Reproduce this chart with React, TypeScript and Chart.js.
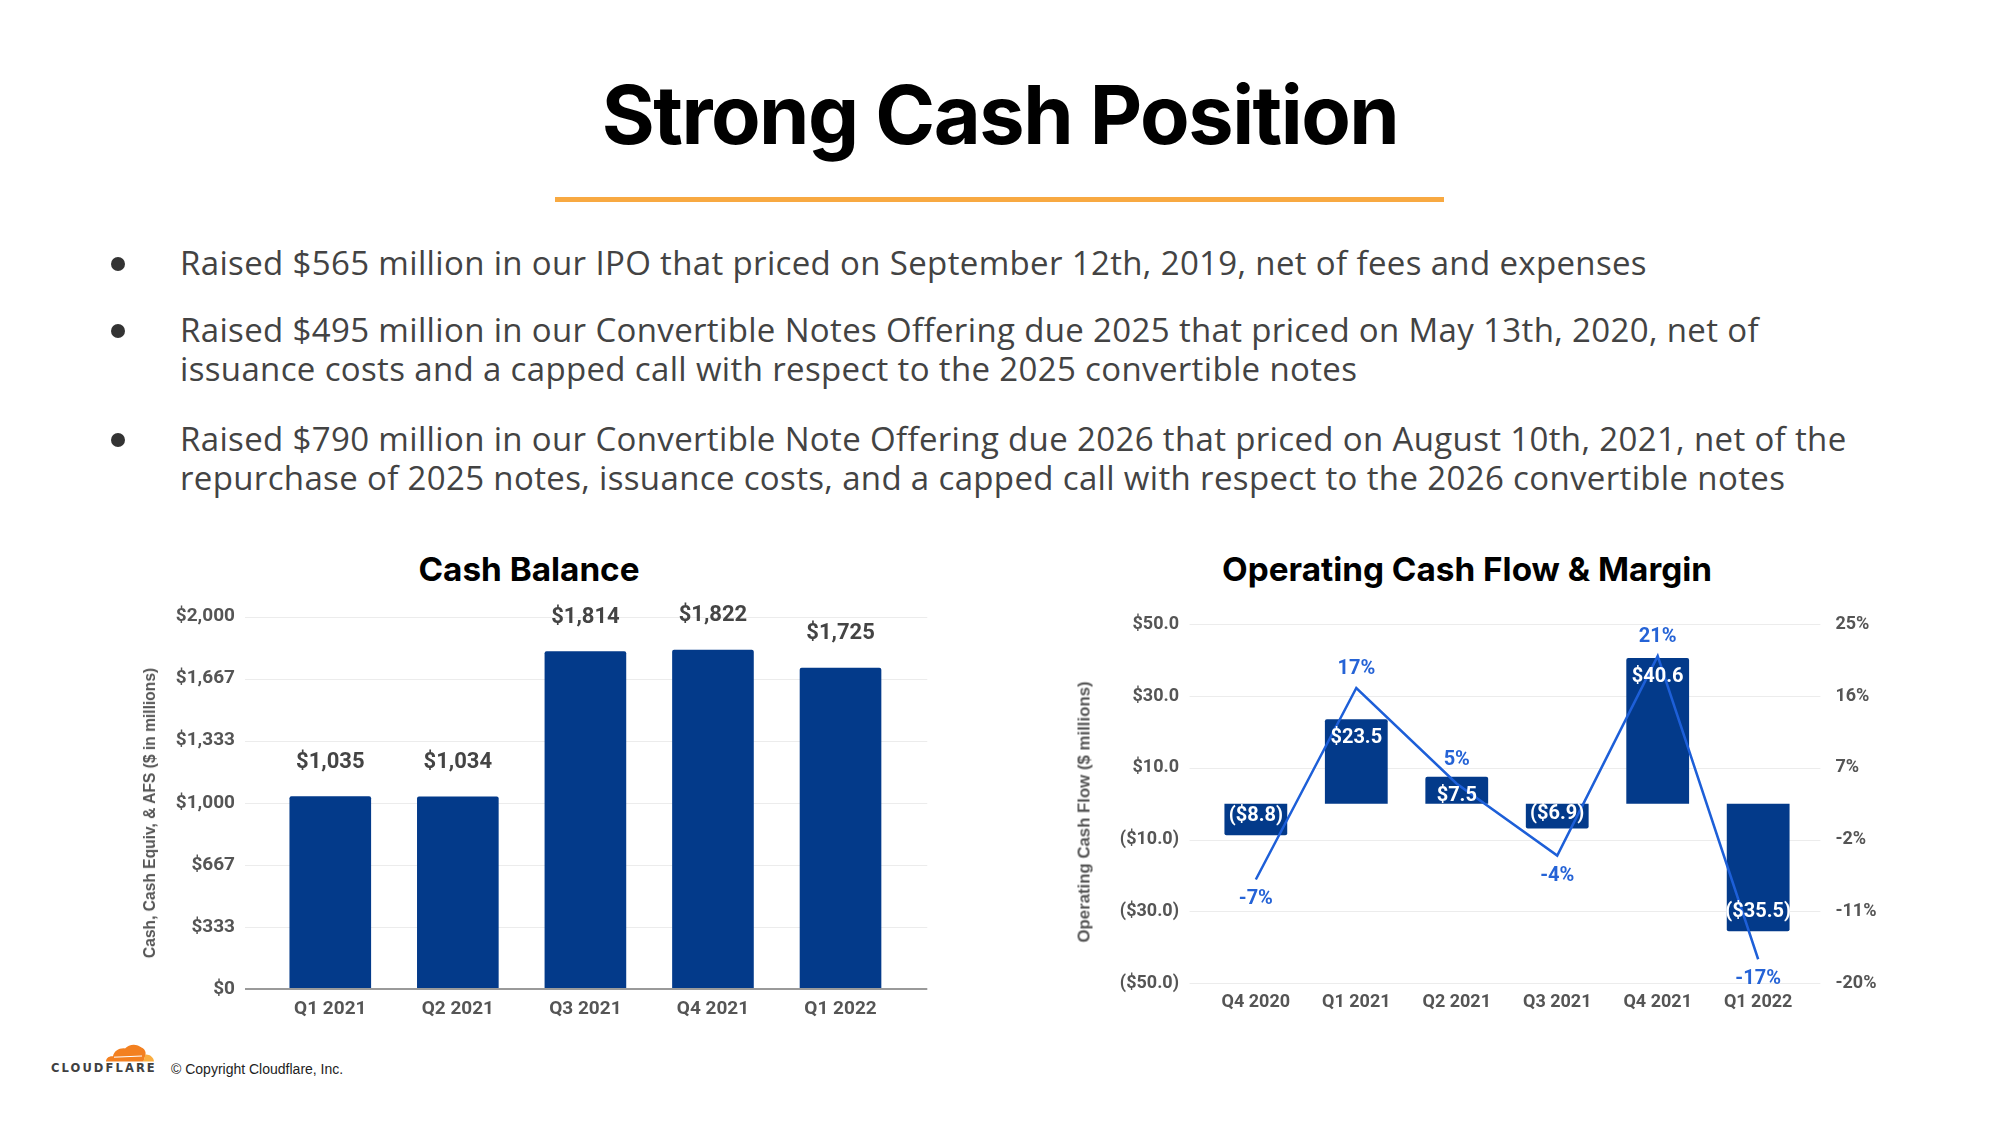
import React, { useEffect, useRef } from 'react';
import { Chart, registerables } from 'chart.js';

Chart.register(...registerables);

// ---------- DATA ----------
const cashCategories = ['Q1 2021', 'Q2 2021', 'Q3 2021', 'Q4 2021', 'Q1 2022'];
const cashValues = [1035, 1034, 1814, 1822, 1725];
const cashValueLabels = ['$1,035', '$1,034', '$1,814', '$1,822', '$1,725'];
const cashTickLabels = ['$0', '$333', '$667', '$1,000', '$1,333', '$1,667', '$2,000'];

const ocfCategories = ['Q4 2020', 'Q1 2021', 'Q2 2021', 'Q3 2021', 'Q4 2021', 'Q1 2022'];
const ocfValues = [-8.8, 23.5, 7.5, -6.9, 40.6, -35.5];
const ocfValueLabels = ['($8.8)', '$23.5', '$7.5', '($6.9)', '$40.6', '($35.5)'];
const marginValues = [-7, 17, 5, -4, 21, -17];
const marginLabels = ['-7%', '17%', '5%', '-4%', '21%', '-17%'];
const ocfTickLabels = ['($50.0)', '($30.0)', '($10.0)', '$10.0', '$30.0', '$50.0'];
const marginTickLabels = ['-20%', '-11%', '-2%', '7%', '16%', '25%'];

const bullets = [
  'Raised $565 million in our IPO that priced on September 12th, 2019, net of fees and expenses',
  'Raised $495 million in our Convertible Notes Offering due 2025 that priced on May 13th, 2020, net of issuance costs and a capped call with respect to the 2025 convertible notes',
  'Raised $790 million in our Convertible Note Offering due 2026 that priced on August 10th, 2021, net of the repurchase of 2025 notes, issuance costs, and a capped call with respect to the 2026 convertible notes',
];

// ---------- STYLE ----------
const NAVY = '#033a8a';
const BLUE = '#1d5fd8';
const LABEL_BLUE = '#2563d6';
const TICK_GRAY = '#555555';
const GRID = '#ececec';

function gridPlugin(axisId: string, extL: number, extR: number, zeroLine: boolean) {
  return {
    id: 'customGrid_' + axisId,
    beforeDatasetsDraw(chart: any) {
      const { ctx, chartArea } = chart;
      const s = chart.scales[axisId];
      ctx.save();
      ctx.strokeStyle = GRID;
      ctx.lineWidth = 1;
      s.ticks.forEach((t: any) => {
        if (zeroLine && t.value === 0) return;
        const y = Math.round(s.getPixelForValue(t.value)) + 0.5;
        ctx.beginPath();
        ctx.moveTo(chartArea.left - extL, y);
        ctx.lineTo(chartArea.right + extR, y);
        ctx.stroke();
      });
      ctx.restore();
    },
    afterDatasetsDraw(chart: any) {
      if (!zeroLine) return;
      const { ctx, chartArea } = chart;
      const s = chart.scales[axisId];
      const y = s.getPixelForValue(0);
      ctx.save();
      ctx.strokeStyle = '#9a9a9a';
      ctx.lineWidth = 2;
      ctx.beginPath();
      ctx.moveTo(chartArea.left - extL, y);
      ctx.lineTo(chartArea.right + extR, y);
      ctx.stroke();
      ctx.restore();
    },
  };
}

const cashLabelPlugin = {
  id: 'cashLabels',
  afterDraw(chart: any) {
    const { ctx } = chart;
    const meta = chart.getDatasetMeta(0);
    ctx.save();
    ctx.font = 'bold 22px Roboto';
    ctx.fillStyle = '#444444';
    ctx.textAlign = 'center';
    ctx.textBaseline = 'middle';
    meta.data.forEach((bar: any, i: number) => {
      ctx.fillText(cashValueLabels[i], bar.x, bar.y - 34);
    });
    ctx.restore();
  },
};

const ocfLabelPlugin = {
  id: 'ocfLabels',
  afterDraw(chart: any) {
    const { ctx } = chart;
    const lineMeta = chart.getDatasetMeta(0);
    const barMeta = chart.getDatasetMeta(1);
    ctx.save();
    ctx.font = 'bold 20px Roboto';
    ctx.textAlign = 'center';
    ctx.textBaseline = 'middle';
    ctx.fillStyle = '#ffffff';
    barMeta.data.forEach((bar: any, i: number) => {
      const v = ocfValues[i];
      const y = v >= 0 ? bar.y + 19 : Math.max(bar.y - 19, bar.base + 10);
      ctx.fillText(ocfValueLabels[i], bar.x, y);
    });
    ctx.fillStyle = LABEL_BLUE;
    const pts = lineMeta.data;
    const halfH = 10;
    pts.forEach((pt: any, i: number) => {
      const v = marginValues[i];
      const halfW = ctx.measureText(marginLabels[i]).width / 2;
      const above = v >= 0;
      let y = above ? pt.y - 19 : pt.y + 20;
      // keep the label clear of the neighbouring line segments
      [i - 1, i + 1].forEach((j) => {
        if (j < 0 || j >= pts.length) return;
        const q = pts[j];
        const slope = (q.y - pt.y) / Math.abs(q.x - pt.x);
        const lineY = pt.y + slope * halfW;
        if (above) y = Math.min(y, lineY - halfH - 1);
        else y = Math.max(y, lineY + halfH + 1);
      });
      ctx.fillText(marginLabels[i], pt.x, y);
    });
    ctx.restore();
  },
};

function CashChart() {
  const ref = useRef<HTMLCanvasElement>(null);
  useEffect(() => {
    const chart = new Chart(ref.current as HTMLCanvasElement, {
      type: 'bar',
      data: {
        labels: cashCategories,
        datasets: [
          {
            data: cashValues,
            backgroundColor: NAVY,
            barPercentage: 0.64,
            categoryPercentage: 1,
            borderRadius: 2,
          },
        ],
      },
      options: {
        animation: false,
        responsive: false,
        maintainAspectRatio: false,
        layout: { padding: { left: 0, top: 56.5, right: 75.7, bottom: 0 } },
        plugins: { legend: { display: false }, tooltip: { enabled: false } },
        scales: {
          x: {
            grid: { display: false, drawTicks: false },
            border: { display: false },
            ticks: { padding: 8.6, color: TICK_GRAY, font: { family: 'Roboto', weight: 'bold', size: 19 } },
            afterFit: (s: any) => { s.height = 51; },
          },
          y: {
            min: 0,
            max: 2000,
            grid: { display: false, drawTicks: false },
            border: { display: false },
            ticks: {
              count: 7,
              padding: 31.5,
              color: TICK_GRAY,
              font: { family: 'Roboto', weight: 'bold', size: 19 },
              callback: (_v: any, i: number) => cashTickLabels[i],
            },
            afterFit: (s: any) => { s.width = 166.5; },
          },
        },
      } as any,
      plugins: [gridPlugin('y', 21.5, 23, true), cashLabelPlugin],
    });
    return () => chart.destroy();
  }, []);
  return (
    <canvas
      ref={ref}
      width={880}
      height={480}
      style={{ position: 'absolute', left: 100, top: 560, width: 880, height: 480 }}
    />
  );
}

function OcfChart() {
  const ref = useRef<HTMLCanvasElement>(null);
  useEffect(() => {
    const chart = new Chart(ref.current as HTMLCanvasElement, {
      type: 'bar',
      data: {
        labels: ocfCategories,
        datasets: [
          {
            type: 'line',
            data: marginValues,
            yAxisID: 'y1',
            borderColor: BLUE,
            borderWidth: 2.5,
            pointRadius: 0,
            tension: 0,
            fill: false,
          },
          {
            type: 'bar',
            data: ocfValues,
            yAxisID: 'y',
            backgroundColor: NAVY,
            barPercentage: 0.625,
            categoryPercentage: 1,
            borderRadius: 2,
          },
        ],
      },
      options: {
        animation: false,
        responsive: false,
        maintainAspectRatio: false,
        layout: { padding: { left: 0, top: 64.2, right: 0, bottom: 0 } },
        plugins: { legend: { display: false }, tooltip: { enabled: false } },
        scales: {
          x: {
            grid: { display: false, drawTicks: false },
            border: { display: false },
            ticks: { padding: 8.2, color: TICK_GRAY, font: { family: 'Roboto', weight: 'bold', size: 18 } },
            afterFit: (s: any) => { s.height = 56.8; },
          },
          y: {
            position: 'left',
            min: -50,
            max: 50,
            grid: { display: false, drawTicks: false },
            border: { display: false },
            ticks: {
              count: 6,
              padding: 26.6,
              color: TICK_GRAY,
              font: { family: 'Roboto', weight: 'bold', size: 18 },
              callback: (_v: any, i: number) => ocfTickLabels[i],
            },
            afterFit: (s: any) => { s.width = 115.6; },
          },
          y1: {
            position: 'right',
            min: -20,
            max: 25,
            grid: { display: false, drawTicks: false },
            border: { display: false },
            ticks: {
              count: 6,
              padding: 27,
              color: TICK_GRAY,
              font: { family: 'Roboto', weight: 'bold', size: 18 },
              callback: (_v: any, i: number) => marginTickLabels[i],
            },
            afterFit: (s: any) => { s.width = 181.6; },
          },
        },
      } as any,
      plugins: [gridPlugin('y', 16, 12, false), ocfLabelPlugin],
    });
    return () => chart.destroy();
  }, []);
  return (
    <canvas
      ref={ref}
      width={900}
      height={480}
      style={{ position: 'absolute', left: 1090, top: 560, width: 900, height: 480 }}
    />
  );
}

function Cloud() {
  return (
    <svg width={52} height={19} viewBox="0 0 52 19" style={{ position: 'absolute', left: 103, top: 1043 }}>
      <path
        d="M3 18.5 C3 15 6 12.8 10 13.2 C11 8 16 4.8 22 5.4 C26 0.8 34 0.3 38.5 4.6 C41.5 6 43.2 8.8 42.5 12 L40.5 18.5 Z"
        fill="#F38020"
      />
      <path d="M40.5 18.5 L42.3 11.6 C46.5 11.2 50.5 14 51 18.5 Z" fill="#FAAE40" />
      <path d="M11 14.2 L39 13" stroke="#ffffff" strokeWidth={1} />
    </svg>
  );
}

export default function App() {
  const bulletTops = [242.5, 309.5, 418.5];
  return (
    <div
      style={{
        position: 'absolute',
        left: 0,
        top: 0,
        width: 2000,
        height: 1125,
        background: '#ffffff',
        overflow: 'hidden',
      }}
    >
      <div
        style={{
          position: 'absolute',
          left: 0,
          width: 2000,
          top: 75,
          textAlign: 'center',
          fontFamily: 'Inter',
          fontWeight: 700,
          fontSize: 81,
          lineHeight: '81px',
          letterSpacing: -1.5,
          color: '#000',
          whiteSpace: 'nowrap',
        }}
      >
        Strong Cash Position
      </div>
      <div style={{ position: 'absolute', left: 555, top: 197, width: 889, height: 5, background: '#F8A941' }} />

      {bullets.map((b, i) => (
        <React.Fragment key={i}>
          <div
            style={{
              position: 'absolute',
              left: 111,
              top: bulletTops[i] + 14.5,
              width: 14,
              height: 14,
              borderRadius: 7,
              background: '#333',
            }}
          />
          <div
            style={{
              position: 'absolute',
              left: 180,
              top: bulletTops[i],
              width: 1700,
              fontFamily: '"Open Sans"',
              fontSize: 33,
              lineHeight: '39.5px',
              letterSpacing: 0.35,
              color: '#434343',
            }}
          >
            {b}
          </div>
        </React.Fragment>
      ))}

      <div
        style={{
          position: 'absolute',
          left: 529,
          top: 552,
          transform: 'translateX(-50%)',
          fontFamily: 'Inter',
          fontWeight: 700,
          fontSize: 33.3,
          lineHeight: '34px',
          color: '#000',
          whiteSpace: 'nowrap',
        }}
      >
        Cash Balance
      </div>
      <div
        style={{
          position: 'absolute',
          left: 1467,
          top: 552,
          transform: 'translateX(-50%)',
          fontFamily: 'Inter',
          fontWeight: 700,
          fontSize: 33.3,
          lineHeight: '34px',
          color: '#000',
          whiteSpace: 'nowrap',
        }}
      >
        Operating Cash Flow &amp; Margin
      </div>

      <CashChart />
      <OcfChart />

      <div
        style={{
          position: 'absolute',
          left: 150,
          top: 812.5,
          transform: 'translate(-50%, -50%) rotate(-90deg)',
          fontFamily: '"Liberation Sans", Arial, sans-serif',
          fontWeight: 700,
          fontSize: 15.6,
          lineHeight: '16px',
          color: '#555',
          whiteSpace: 'nowrap',
        }}
      >
        Cash, Cash Equiv, &amp; AFS ($ in millions)
      </div>
      <div
        style={{
          position: 'absolute',
          left: 1084,
          top: 812,
          transform: 'translate(-50%, -50%) rotate(-90deg)',
          fontFamily: '"Liberation Sans", Arial, sans-serif',
          fontWeight: 700,
          fontSize: 16.8,
          lineHeight: '17px',
          color: '#555',
          whiteSpace: 'nowrap',
        }}
      >
        Operating Cash Flow ($ millions)
      </div>

      <Cloud />
      <div
        style={{
          position: 'absolute',
          left: 51,
          top: 1062,
          fontFamily: '"DejaVu Sans", sans-serif',
          fontWeight: 700,
          fontSize: 11.5,
          lineHeight: '12px',
          letterSpacing: 2.1,
          color: '#404041',
          whiteSpace: 'nowrap',
        }}
      >
        CLOUDFLARE
      </div>
      <div
        style={{
          position: 'absolute',
          left: 171,
          top: 1060,
          fontFamily: '"Liberation Sans", Arial, sans-serif',
          fontSize: 14,
          lineHeight: '18px',
          color: '#222',
          whiteSpace: 'nowrap',
        }}
      >
        © Copyright Cloudflare, Inc.
      </div>
    </div>
  );
}
